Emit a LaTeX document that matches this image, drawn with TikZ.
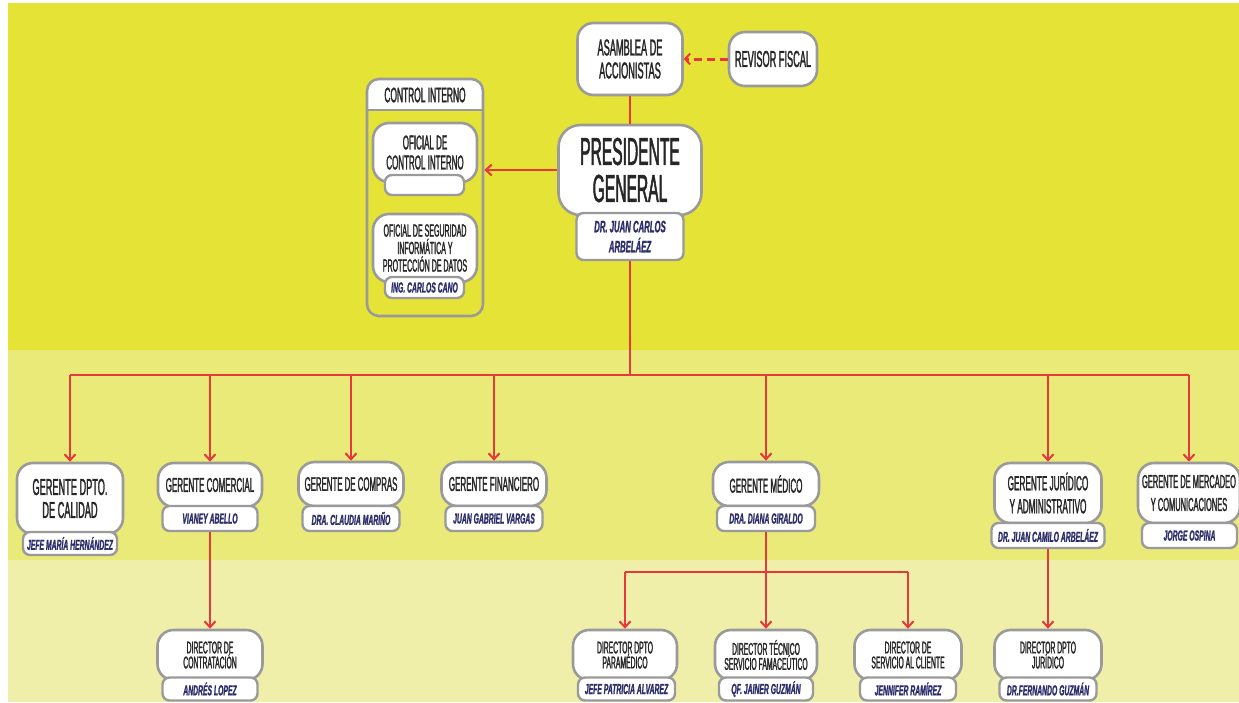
\documentclass[tikz,border=0pt]{standalone}
\usepackage{fontspec}
\usetikzlibrary{arrows.meta}
\newfontfamily\cond[FakeStretch=0.4,FakeBold=1.3]{Liberation Sans}
\newfontfamily\condn[FakeStretch=0.47,FakeBold=1.2]{Liberation Sans}
\definecolor{bandA}{HTML}{E6E337}
\definecolor{bandB}{HTML}{EAEA78}
\definecolor{bandC}{HTML}{F0EFAA}
\definecolor{lred}{HTML}{E8383D}
\definecolor{bgray}{HTML}{9A9A9A}
\definecolor{navy}{HTML}{2B2E6B}
\definecolor{tdark}{HTML}{262626}
\newcommand{\fs}[2]{\fontsize{#1}{#2}\selectfont}
\begin{document}
\begin{tikzpicture}[x=1pt,y=-1pt,
  box/.style={draw=bgray, line width=2.6pt, fill=white, rounded corners=16pt, align=center, inner sep=0pt, text=tdark},
  namebox/.style={draw=bgray, line width=2.4pt, fill=white, rounded corners=7pt, align=center, inner sep=0pt, text=navy, font=\condn\bfseries\itshape\fs{14.5}{15}},
  conn/.style={draw=lred, line width=2pt},
  arr/.style={conn, -{Straight Barb[length=6pt,width=11pt]}},
  ]
\useasboundingbox (0,0) rectangle (1239,702);
\fill[white] (0,0) rectangle (1239,702);
\fill[bandA] (8,3) rectangle (1239,350);
\fill[bandB] (8,350) rectangle (1239,560);
\fill[bandC] (8,560) rectangle (1239,702);

% top
\node[box, minimum width=105pt, minimum height=72pt, font=\cond\fs{23}{23}] (asam) at (630,59) {ASAMBLEA DE\\ACCIONISTAS};
\node[box, minimum width=88pt, minimum height=54pt, font=\cond\fs{23}{23}] (rev) at (773,59) {REVISOR FISCAL};
\node[box, rounded corners=22pt, minimum width=143pt, minimum height=90pt, font=\cond\fs{39}{37}] (pres) at (630,170) {PRESIDENTE\\GENERAL};
\node[namebox, minimum width=107pt, minimum height=47pt, font=\condn\bfseries\itshape\fs{16.5}{20}] (presn) at (630,236.5) {DR. JUAN CARLOS\\ARBELÁEZ};

% control interno
\fill[white] (367,110) [rounded corners=12pt] -- (367,79) -- (483,79) [sharp corners] -- (483,110) -- cycle;
\node[draw=bgray, line width=2.6pt, rounded corners=12pt, minimum width=116pt, minimum height=237pt, inner sep=0pt] (ctrl) at (425,197.5) {};
\draw[bgray, line width=2.6pt] (ctrl.west |- 0,110) -- (ctrl.east |- 0,110);
\node[text=tdark, font=\cond\fs{21}{21}, inner sep=0pt] (ctrlh) at (425,95) {CONTROL INTERNO};
\node[box, minimum width=104pt, minimum height=59pt, font=\cond\fs{20}{20}] (of1) at (425,152.5) {OFICIAL DE\\CONTROL INTERNO};
\node[namebox, minimum width=79pt, minimum height=20pt] (of1n) at (424.5,185) {};
\node[box, minimum width=104pt, minimum height=68pt, font=\cond\fs{17.6}{17.5}] (of2) at (425,248) {OFICIAL DE SEGURIDAD\\INFORMÁTICA Y\\PROTECCIÓN DE DATOS};
\node[namebox, minimum width=79pt, minimum height=21pt] (of2n) at (424.5,287.5) {ING. CARLOS CANO};

% gerentes
\node[box, minimum width=106pt, minimum height=71pt, font=\cond\fs{23}{23}] (gcal) at (70,498.5) {GERENTE DPTO.\\DE CALIDAD};
\node[namebox, minimum width=94pt, minimum height=23pt] (gcaln) at (70,543.5) {JEFE MARÍA HERNÁNDEZ};
\node[box, minimum width=104pt, minimum height=44pt, font=\cond\fs{20}{22}] (gcom) at (210,485) {GERENTE COMERCIAL};
\node[namebox, minimum width=95pt, minimum height=25pt] (gcomn) at (210,518.5) {VIANEY ABELLO};
\node[box, minimum width=105pt, minimum height=44pt, font=\cond\fs{19.6}{22}] (gcmp) at (351,484) {GERENTE DE COMPRAS};
\node[namebox, minimum width=97pt, minimum height=25pt] (gcmpn) at (351,518.5) {DRA. CLAUDIA MARIÑO};
\node[box, minimum width=105pt, minimum height=44pt, font=\cond\fs{20}{22}] (gfin) at (494,484) {GERENTE FINANCIERO};
\node[namebox, minimum width=97pt, minimum height=25pt] (gfinn) at (494,518.5) {JUAN GABRIEL VARGAS};
\node[box, minimum width=106pt, minimum height=44pt, font=\cond\fs{20}{22}] (gmed) at (766,484) {GERENTE MÉDICO};
\node[namebox, minimum width=98pt, minimum height=25pt] (gmedn) at (766,518.5) {DRA. DIANA GIRALDO};
\node[box, minimum width=107pt, minimum height=60pt, font=\cond\fs{20.5}{23}] (gjur) at (1048,493) {GERENTE JURÍDICO\\Y ADMINISTRATIVO};
\node[namebox, minimum width=113pt, minimum height=25pt] (gjurn) at (1048,535.5) {DR. JUAN CAMILO ARBELÁEZ};
\node[box, minimum width=102pt, minimum height=60pt, font=\cond\fs{18.7}{23}] (gmer) at (1189,493) {GERENTE DE MERCADEO\\Y COMUNICACIONES};
\node[namebox, minimum width=95pt, minimum height=25pt] (gmern) at (1189.5,535.5) {JORGE OSPINA};

% directores
\node[box, minimum width=105pt, minimum height=50pt, font=\cond\fs{17}{15}] (dcon) at (210,655) {DIRECTOR DE\\CONTRATACIÓN};
\node[namebox, minimum width=95pt, minimum height=23pt] (dconn) at (210,689) {ANDRÉS LOPEZ};
\node[box, minimum width=104pt, minimum height=50pt, font=\cond\fs{17}{15}] (dpar) at (625,655) {DIRECTOR DPTO\\PARAMÉDICO};
\node[namebox, minimum width=97pt, minimum height=23pt] (dparn) at (626.5,689) {JEFE PATRICIA ALVAREZ};
\node[box, minimum width=102pt, minimum height=50pt, font=\cond\fs{17}{15}] (dtec) at (766,655) {DIRECTOR TÉCNICO\\SERVICIO FAMACEÚTICO};
\node[namebox, minimum width=94pt, minimum height=23pt] (dtecn) at (766,689) {QF. JAINER GUZMÁN};
\node[box, minimum width=107pt, minimum height=50pt, font=\cond\fs{17}{15}] (dcli) at (908,655) {DIRECTOR DE\\SERVICIO AL CLIENTE};
\node[namebox, minimum width=96pt, minimum height=23pt] (dclin) at (908,689) {JENNIFER RAMÍREZ};
\node[box, minimum width=107pt, minimum height=50pt, font=\cond\fs{17}{15}] (djur) at (1048,655) {DIRECTOR DPTO\\JURÍDICO};
\node[namebox, minimum width=97pt, minimum height=23pt] (djurn) at (1048,689) {DR.FERNANDO GUZMÁN};

% connectors
\draw[conn] (asam.south) -- (pres.north);
\draw[conn, line width=3pt, dash pattern=on 8pt off 5pt, -{Straight Barb[length=5pt,width=11pt,line width=2pt]}] (rev.west) -- (asam.east);
\draw[arr] (pres.west) -- (pres.west -| ctrl.east);
\coordinate (bus) at (630,375);
\draw[conn] (presn.south) -- (bus);
\draw[conn] (gcal.north |- bus) -- (gmer.north |- bus);
\foreach \g in {gcal,gcom,gcmp,gfin,gmed,gjur,gmer} \draw[arr] (\g.north |- bus) -- (\g.north);
\draw[arr] (gcomn.south) -- (dcon.north);
\coordinate (mbus) at (766,572);
\draw[conn] (gmedn.south) -- (mbus);
\draw[conn] (dpar.north |- mbus) -- (dcli.north |- mbus);
\foreach \d in {dpar,dtec,dcli} \draw[arr] (\d.north |- mbus) -- (\d.north);
\draw[arr] (gjurn.south) -- (djur.north);
\end{tikzpicture}
\end{document}
